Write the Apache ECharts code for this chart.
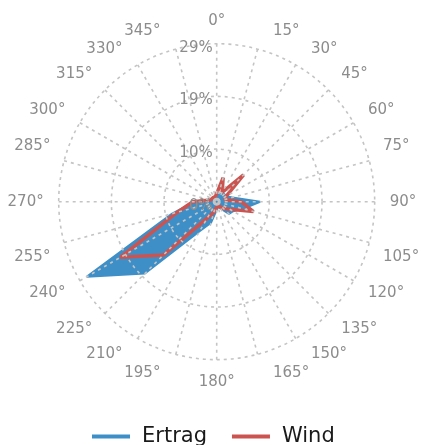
<!DOCTYPE html>
<html>
<head>
<meta charset="utf-8">
<script src="https://cdn.jsdelivr.net/npm/echarts@6/dist/echarts.min.js"></script>
<style>
  html, body { margin: 0; padding: 0; background: #fff; }
  #main { width: 422px; height: 445px; }
</style>
</head>
<body>
<div id="main"></div>
<script>
// Windrichtungen (Grad)
var angles = [0, 15, 30, 45, 60, 75, 90, 105, 120, 135, 150, 165,
              180, 195, 210, 225, 240, 255, 270, 285, 300, 315, 330, 345];
// Ertrag in %
var ertrag = [1.0, 1.5, 1.5, 2.0, 2.0, 3.0, 8.0, 5.0, 3.5, 3.2, 1.5, 1.0,
              1.2, 4.0, 6.3, 18.7, 27.6, 8.5, 4.0, 1.0, 0.8, 0.8, 0.8, 0.8];
// Wind in %
var wind = [1.5, 4.6, 2.0, 7.0, 2.0, 1.5, 4.5, 7.0, 2.8, 1.8, 1.0, 0.8,
            1.0, 2.0, 3.5, 13.9, 20.5, 7.5, 4.4, 1.2, 1.0, 1.0, 1.0, 1.0];
var radiusTicks = ['0%', '10%', '19%', '29%'];
var rStep = 9.7;
// wo die Gradbeschriftungen sitzen (wie im Original leicht verschoben)
var labelAngles = [0, 19, 33, 46, 61, 74, 90, 106, 119, 134, 147, 161,
                   180, 199, 213, 226, 241, 254, 270, 286, 299, 314, 327, 341];

function toPolar(values) {
    var d = angles.map(function (a, i) { return [values[i], a]; });
    d.push([values[0], 360]); // Polygon schliessen
    return d;
}

var gridStyle = { color: '#c4c4c4', width: 1.6, type: [3, 4] };

var chart = echarts.init(document.getElementById('main'));
var option = {
    backgroundColor: '#ffffff',
    animation: false,
    polar: {
        center: [216.7, 201.7],
        radius: 158
    },
    angleAxis: {
        type: 'value',
        min: 0,
        max: 360,
        interval: 15,
        startAngle: 90,
        clockwise: true,
        z: 10,
        axisLine: { show: false },
        axisTick: { show: false },
        axisLabel: {
            margin: 15,
            color: '#8c8c8c',
            fontSize: 15,
            fontFamily: 'DejaVu Sans',
            customValues: labelAngles,
            formatter: function (v) {
                var i = labelAngles.indexOf(v);
                return i < 0 ? '' : angles[i] + '°';
            }
        },
        splitLine: { show: true, lineStyle: gridStyle }
    },
    radiusAxis: {
        type: 'value',
        min: 0,
        max: rStep * 3,
        interval: rStep,
        z: 10,
        axisLine: { show: false },
        axisTick: { show: false },
        axisLabel: {
            margin: 4,
            color: '#8c8c8c',
            fontSize: 15,
            fontFamily: 'DejaVu Sans',
            verticalAlign: 'top',
            lineHeight: 8,
            formatter: function (v) { return radiusTicks[Math.round(v / rStep)]; }
        },
        splitLine: { show: true, lineStyle: gridStyle }
    },
    legend: {
        bottom: -2,
        left: 92,
        padding: 0,
        itemWidth: 38,
        itemHeight: 4,
        itemGap: 25,
        icon: 'rect',
        textStyle: { fontSize: 21, color: '#1a1a1a', fontFamily: 'DejaVu Sans', padding: [0, 0, 0, 7] },
        data: ['Ertrag', 'Wind']
    },
    series: [{
        name: 'Ertrag',
        type: 'line',
        coordinateSystem: 'polar',
        data: toPolar(ertrag),
        symbol: 'none',
        color: '#3e8fc7',
        lineStyle: { width: 2, color: '#3e8fc7' },
        areaStyle: { color: '#3e8fc7', opacity: 1 },
        z: 2
    }, {
        name: 'Wind',
        type: 'line',
        coordinateSystem: 'polar',
        data: toPolar(wind),
        symbol: 'none',
        color: '#cc5450',
        lineStyle: { width: 3.5, color: '#cc5450' },
        z: 3
    }]
};
chart.setOption(option);
</script>
</body>
</html>
